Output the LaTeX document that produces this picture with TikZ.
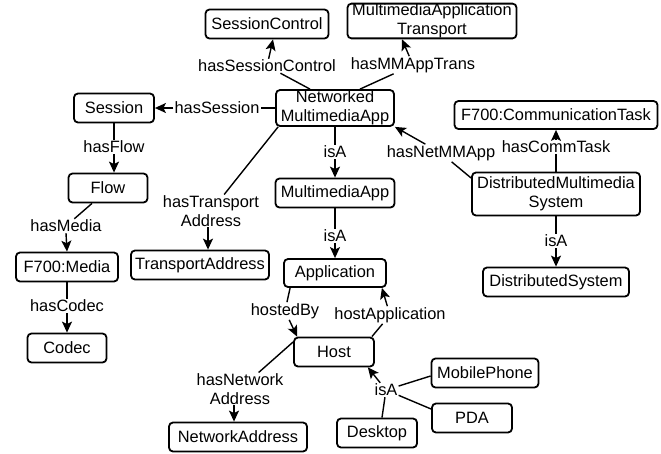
\documentclass[tikz,border=0pt]{standalone}
\usepackage{fontspec}
\setmainfont{Liberation Sans}
\usetikzlibrary{arrows.meta,calc}
\begin{document}
\begin{tikzpicture}[x=1pt,y=-1pt,
 box/.style={draw, line width=1.8pt, rounded corners=4pt, minimum height=29pt, inner sep=0pt, align=center, font=\fontsize{16.4}{19.5}\selectfont},
 lab/.style={inner sep=1pt, align=center, font=\fontsize{16.4}{18.5}\selectfont},
 con/.style={line width=1.4pt},
 arr/.style={line width=1.4pt, -{Stealth[length=11pt,width=10pt,inset=2.5pt]}},
]
\useasboundingbox (0,0) rectangle (661,453);
% class nodes
\node[box, minimum width=123pt] (sc) at (267,24) {SessionControl};
\node[box, minimum width=169pt, minimum height=34pt] (mmat) at (432,21) {MultimediaApplication\\Transport};
\node[box, minimum width=80pt] (sess) at (114,108) {Session};
\node[box, minimum width=118pt, minimum height=36pt] (nma) at (335,108) {Networked\\MultimediaApp};
\node[box, minimum width=79pt] (flow) at (108,188) {Flow};
\node[box, minimum width=119pt] (mma) at (335,193) {MultimediaApp};
\node[box, minimum width=203pt, minimum height=28pt] (ct) at (556,115) {F700:CommunicationTask};
\node[box, minimum width=168pt, minimum height=43pt] (dms) at (556,194) {DistributedMultimedia\\System};
\node[box, minimum width=138pt] (ta) at (200,265) {TransportAddress};
\node[box, minimum width=102pt] (media) at (67,267) {F700:Media};
\node[box, minimum width=79pt] (codec) at (67,348) {Codec};
\node[box, minimum width=102pt, minimum height=28pt] (app) at (335,273) {Application};
\node[box, minimum width=146pt] (ds) at (556,282) {DistributedSystem};
\node[box, minimum width=80pt] (host) at (334,352) {Host};
\node[box, minimum width=138pt] (na) at (238,437) {NetworkAddress};
\node[box, minimum width=107pt] (mp) at (485,373) {MobilePhone};
\node[box, minimum width=80pt] (pda) at (472,418) {PDA};
\node[box, minimum width=80pt] (desk) at (377,433) {Desktop};
% edge labels
\node[lab] (lSC) at (267,66) {hasSessionControl};
\node[lab] (lMT) at (413,65) {hasMMAppTrans};
\node[lab] (lS) at (217,108) {hasSession};
\node[lab] (lF) at (114,147) {hasFlow};
\node[lab] (lM) at (66,226) {hasMedia};
\node[lab] (lC) at (67,306) {hasCodec};
\node[lab] (lTA) at (211,211) {hasTransport\\Address};
\node[lab] (lI1) at (335,152) {isA};
\node[lab] (lI2) at (335,236) {isA};
\node[lab] (lNM) at (441,153) {hasNetMMApp};
\node[lab] (lCT) at (556,147) {hasCommTask};
\node[lab] (lI3) at (556,241) {isA};
\node[lab] (lHB) at (285,311) {hostedBy};
\node[lab] (lHA) at (390,315) {hostApplication};
\node[lab] (lNA) at (240,389) {hasNetwork\\Address};
\node[lab] (lI4) at (386,390) {isA};
% connectors
\draw[con] ($(nma.north)+(-25,0)$) -- (lSC);
\draw[arr] (lSC) -- ($(sc.south)+(6,0)$);
\draw[con] ($(nma.north)+(25,0)$) -- (lMT);
\draw[arr] (lMT) -- ($(mmat.south)+(-30,0)$);
\draw[con] (nma.west) -- (lS.east);
\draw[arr] (lS.west) -- (sess.east);
\draw[con] (sess.south) -- (lF.north);
\draw[arr] (lF.south) -- ($(flow.north)+(6,0)$);
\draw[con] ($(flow.south)+(-16,0)$) -- (lM);
\draw[arr] (lM.south) -- (media.north);
\draw[con] (media.south) -- (lC.north);
\draw[arr] (lC.south) -- (codec.north);
\draw[con] ($(nma.south west)+(3,0)$) -- (lTA);
\draw[arr] ($(lTA.south)+(-3,0)$) -- ($(ta.north)+(8,0)$);
\draw[con] (nma.south) -- (lI1.north);
\draw[arr] (lI1.south) -- (mma.north);
\draw[con] (mma.south) -- (lI2.north);
\draw[arr] (lI2.south) -- (app.north);
\draw[con] ($(dms.west)+(0,-16)$) -- (lNM);
\draw[arr] (lNM) -- (nma.south east);
\draw[con] (dms.north) -- (lCT.south);
\draw[arr] (lCT.north) -- (ct.south);
\draw[con] (dms.south) -- (lI3.north);
\draw[arr] (lI3.south) -- (ds.north);
\draw[con] ($(app.south west)+(7,0)$) -- (lHB);
\draw[arr] (lHB) -- ($(host.north west)+(4,0)$);
\draw[con] ($(host.north east)+(-3,0)$) -- (lHA);
\draw[arr] (lHA) -- ($(app.south east)+(-5,0)$);
\draw[con] ($(host.west)+(0,-10)$) -- (lNA);
\draw[arr] ($(lNA.south)+(-6,0)$) -- ($(na.north)+(-4,0)$);
\draw[con] ($(mp.west)+(0,3)$) -- (lI4);
\draw[con] ($(pda.west)+(0,-9)$) -- (lI4);
\draw[con] ($(desk.north)+(5,0)$) -- (lI4);
\draw[arr] (lI4) -- ($(host.south east)+(-7,0)$);
\end{tikzpicture}
\end{document}
